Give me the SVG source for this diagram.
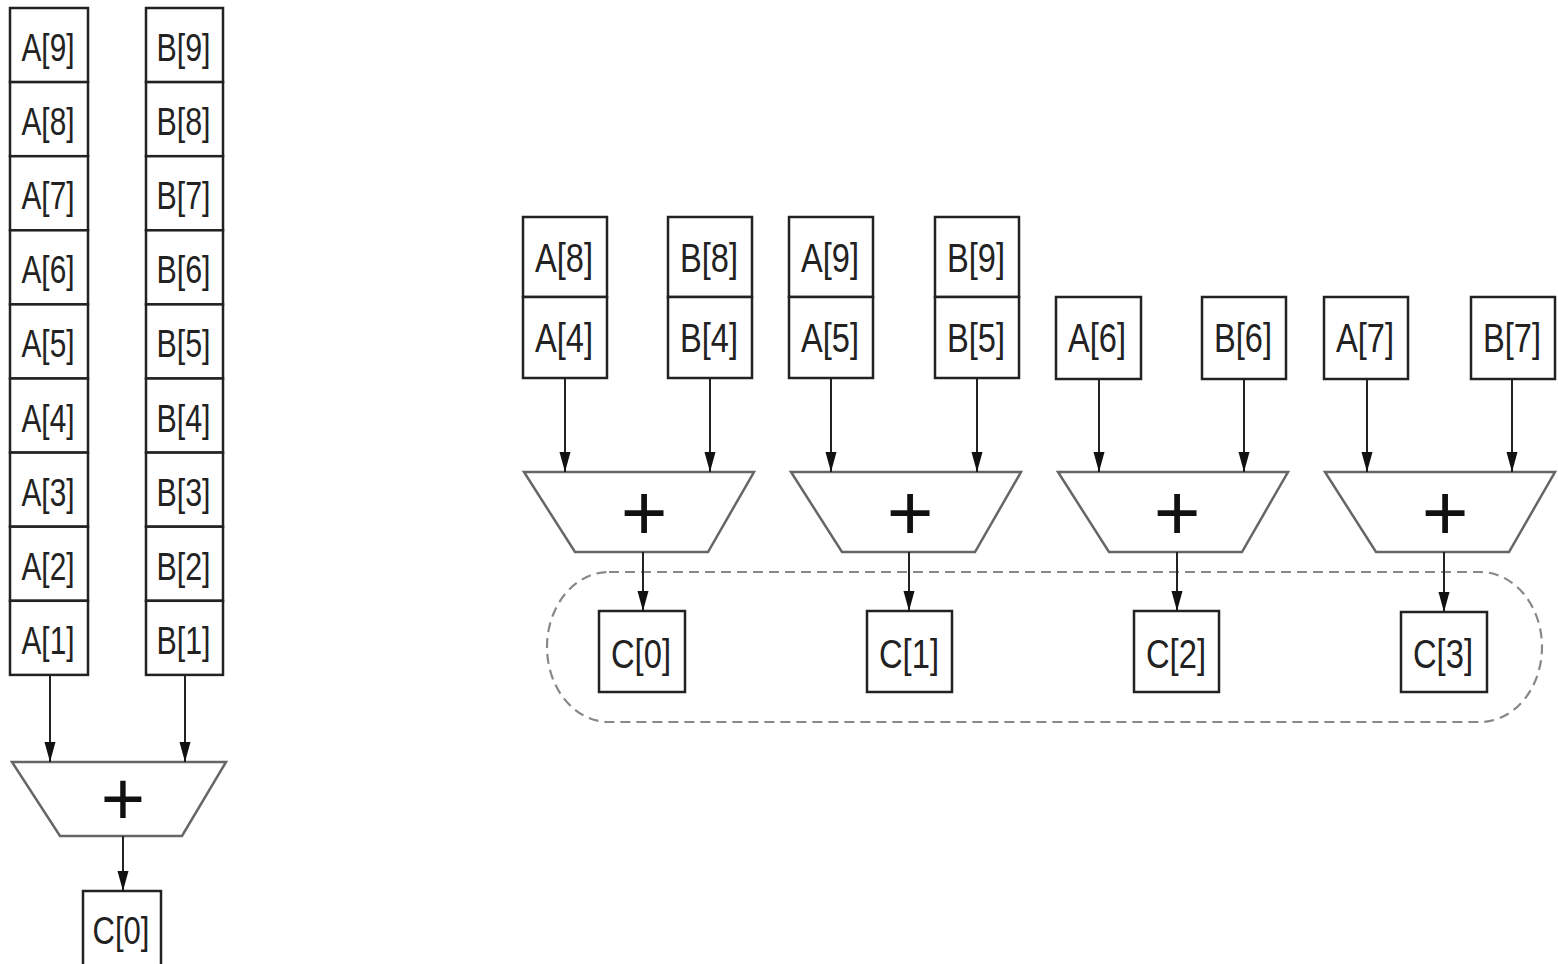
<svg xmlns="http://www.w3.org/2000/svg" width="1558" height="964" viewBox="0 0 1558 964">
<style>
.box{fill:#fff;stroke:#222;stroke-width:2.5}
.add{fill:#fff;stroke:#666;stroke-width:2.5;stroke-linejoin:miter}
.lbl{font-family:"Liberation Sans",Arial,sans-serif;fill:#222;text-anchor:middle}
.s{font-size:39px}
.r{font-size:41px}
.plus{font-family:"Liberation Sans",Arial,sans-serif;fill:#111;text-anchor:middle}
.wire{stroke:#222;stroke-width:2;fill:none;marker-end:url(#ah)}
.dash{fill:none;stroke:#888;stroke-width:2.2;stroke-dasharray:10 6}
</style>
<defs>
<marker id="ah" markerUnits="userSpaceOnUse" markerWidth="20" markerHeight="12" refX="20" refY="6" orient="auto">
<path d="M0,0.5 L20,6 L0,11.5 z" fill="#111"/>
</marker>
</defs>
<rect width="1558" height="964" fill="#fff"/>

<!-- Left: sequential -->
<g id="colA">
<rect class="box" x="10" y="8" width="78" height="74.1"/>
<rect class="box" x="10" y="82.1" width="78" height="74.1"/>
<rect class="box" x="10" y="156.2" width="78" height="74.1"/>
<rect class="box" x="10" y="230.3" width="78" height="74.1"/>
<rect class="box" x="10" y="304.4" width="78" height="74.1"/>
<rect class="box" x="10" y="378.5" width="78" height="74.1"/>
<rect class="box" x="10" y="452.6" width="78" height="74.1"/>
<rect class="box" x="10" y="526.7" width="78" height="74.1"/>
<rect class="box" x="10" y="600.8" width="78" height="74.1"/>
<text class="lbl s" x="48" y="61" textLength="53" lengthAdjust="spacingAndGlyphs">A[9]</text>
<text class="lbl s" x="48" y="135.1" textLength="53" lengthAdjust="spacingAndGlyphs">A[8]</text>
<text class="lbl s" x="48" y="209.2" textLength="53" lengthAdjust="spacingAndGlyphs">A[7]</text>
<text class="lbl s" x="48" y="283.3" textLength="53" lengthAdjust="spacingAndGlyphs">A[6]</text>
<text class="lbl s" x="48" y="357.4" textLength="53" lengthAdjust="spacingAndGlyphs">A[5]</text>
<text class="lbl s" x="48" y="431.5" textLength="53" lengthAdjust="spacingAndGlyphs">A[4]</text>
<text class="lbl s" x="48" y="505.6" textLength="53" lengthAdjust="spacingAndGlyphs">A[3]</text>
<text class="lbl s" x="48" y="579.7" textLength="53" lengthAdjust="spacingAndGlyphs">A[2]</text>
<text class="lbl s" x="48" y="653.8" textLength="53" lengthAdjust="spacingAndGlyphs">A[1]</text>
</g>
<g id="colB">
<rect class="box" x="146" y="8" width="77" height="74.1"/>
<rect class="box" x="146" y="82.1" width="77" height="74.1"/>
<rect class="box" x="146" y="156.2" width="77" height="74.1"/>
<rect class="box" x="146" y="230.3" width="77" height="74.1"/>
<rect class="box" x="146" y="304.4" width="77" height="74.1"/>
<rect class="box" x="146" y="378.5" width="77" height="74.1"/>
<rect class="box" x="146" y="452.6" width="77" height="74.1"/>
<rect class="box" x="146" y="526.7" width="77" height="74.1"/>
<rect class="box" x="146" y="600.8" width="77" height="74.1"/>
<text class="lbl s" x="183.5" y="61" textLength="54" lengthAdjust="spacingAndGlyphs">B[9]</text>
<text class="lbl s" x="183.5" y="135.1" textLength="54" lengthAdjust="spacingAndGlyphs">B[8]</text>
<text class="lbl s" x="183.5" y="209.2" textLength="54" lengthAdjust="spacingAndGlyphs">B[7]</text>
<text class="lbl s" x="183.5" y="283.3" textLength="54" lengthAdjust="spacingAndGlyphs">B[6]</text>
<text class="lbl s" x="183.5" y="357.4" textLength="54" lengthAdjust="spacingAndGlyphs">B[5]</text>
<text class="lbl s" x="183.5" y="431.5" textLength="54" lengthAdjust="spacingAndGlyphs">B[4]</text>
<text class="lbl s" x="183.5" y="505.6" textLength="54" lengthAdjust="spacingAndGlyphs">B[3]</text>
<text class="lbl s" x="183.5" y="579.7" textLength="54" lengthAdjust="spacingAndGlyphs">B[2]</text>
<text class="lbl s" x="183.5" y="653.8" textLength="54" lengthAdjust="spacingAndGlyphs">B[1]</text>
</g>
<g id="addL">
<polygon class="add" points="12,762 226,762 182,836 60,836"/>
<text class="plus" x="123" y="825" font-size="76">+</text>
</g>
<g id="outL">
<rect class="box" x="83" y="891" width="78" height="80"/>
<text class="lbl s" x="121" y="944" textLength="57" lengthAdjust="spacingAndGlyphs">C[0]</text>
</g>

<!-- Right: parallel -->
<g id="g0A">
<rect class="box" x="523" y="217" width="84" height="80"/>
<rect class="box" x="523" y="297" width="84" height="81"/>
<text class="lbl r" x="564" y="272" textLength="58" lengthAdjust="spacingAndGlyphs">A[8]</text>
<text class="lbl r" x="564" y="352" textLength="58" lengthAdjust="spacingAndGlyphs">A[4]</text>
</g>
<g id="g0B">
<rect class="box" x="668" y="217" width="84" height="80"/>
<rect class="box" x="668" y="297" width="84" height="81"/>
<text class="lbl r" x="709" y="272" textLength="58" lengthAdjust="spacingAndGlyphs">B[8]</text>
<text class="lbl r" x="709" y="352" textLength="58" lengthAdjust="spacingAndGlyphs">B[4]</text>
</g>
<g id="g1A">
<rect class="box" x="789" y="217" width="84" height="80"/>
<rect class="box" x="789" y="297" width="84" height="81"/>
<text class="lbl r" x="830" y="272" textLength="58" lengthAdjust="spacingAndGlyphs">A[9]</text>
<text class="lbl r" x="830" y="352" textLength="58" lengthAdjust="spacingAndGlyphs">A[5]</text>
</g>
<g id="g1B">
<rect class="box" x="935" y="217" width="84" height="80"/>
<rect class="box" x="935" y="297" width="84" height="81"/>
<text class="lbl r" x="976" y="272" textLength="58" lengthAdjust="spacingAndGlyphs">B[9]</text>
<text class="lbl r" x="976" y="352" textLength="58" lengthAdjust="spacingAndGlyphs">B[5]</text>
</g>
<g id="g2A">
<rect class="box" x="1056" y="297" width="85" height="82"/>
<text class="lbl r" x="1097" y="352" textLength="58" lengthAdjust="spacingAndGlyphs">A[6]</text>
</g>
<g id="g2B">
<rect class="box" x="1202" y="297" width="84" height="82"/>
<text class="lbl r" x="1243" y="352" textLength="58" lengthAdjust="spacingAndGlyphs">B[6]</text>
</g>
<g id="g3A">
<rect class="box" x="1324" y="297" width="84" height="82"/>
<text class="lbl r" x="1365" y="352" textLength="58" lengthAdjust="spacingAndGlyphs">A[7]</text>
</g>
<g id="g3B">
<rect class="box" x="1471" y="297" width="84" height="82"/>
<text class="lbl r" x="1512" y="352" textLength="58" lengthAdjust="spacingAndGlyphs">B[7]</text>
</g>

<g id="add0">
<polygon class="add" points="524,472 754,472 708,552 575,552"/>
<text class="plus" x="644" y="540" font-size="80">+</text>
</g>
<g id="add1">
<polygon class="add" points="791,472 1021,472 975,552 842,552"/>
<text class="plus" x="910" y="540" font-size="80">+</text>
</g>
<g id="add2">
<polygon class="add" points="1058,472 1288,472 1242,552 1109,552"/>
<text class="plus" x="1177" y="540" font-size="80">+</text>
</g>
<g id="add3">
<polygon class="add" points="1325,472 1555,472 1509,552 1376,552"/>
<text class="plus" x="1445" y="540" font-size="80">+</text>
</g>

<g id="group">
<rect class="dash" x="547" y="572" width="995" height="150" rx="62" ry="75"/>
</g>

<g id="c0">
<rect class="box" x="599" y="611" width="86" height="81"/>
<text class="lbl r" x="641" y="668" textLength="60" lengthAdjust="spacingAndGlyphs">C[0]</text>
</g>
<g id="c1">
<rect class="box" x="867" y="611" width="85" height="81"/>
<text class="lbl r" x="909" y="668" textLength="60" lengthAdjust="spacingAndGlyphs">C[1]</text>
</g>
<g id="c2">
<rect class="box" x="1134" y="611" width="85" height="81"/>
<text class="lbl r" x="1176" y="668" textLength="60" lengthAdjust="spacingAndGlyphs">C[2]</text>
</g>
<g id="c3">
<rect class="box" x="1401" y="612" width="86" height="80"/>
<text class="lbl r" x="1443" y="668" textLength="60" lengthAdjust="spacingAndGlyphs">C[3]</text>
</g>

<g id="connectors">
<line class="wire" x1="50" y1="675" x2="50" y2="762"/>
<line class="wire" x1="185" y1="675" x2="185" y2="762"/>
<line class="wire" x1="123" y1="836" x2="123" y2="891"/>

<line class="wire" x1="565" y1="378" x2="565" y2="472"/>
<line class="wire" x1="710" y1="378" x2="710" y2="472"/>
<line class="wire" x1="831" y1="378" x2="831" y2="472"/>
<line class="wire" x1="977" y1="378" x2="977" y2="472"/>
<line class="wire" x1="1099" y1="379" x2="1099" y2="472"/>
<line class="wire" x1="1244" y1="379" x2="1244" y2="472"/>
<line class="wire" x1="1367" y1="379" x2="1367" y2="472"/>
<line class="wire" x1="1512" y1="379" x2="1512" y2="472"/>

<line class="wire" x1="643" y1="552" x2="643" y2="611"/>
<line class="wire" x1="909" y1="552" x2="909" y2="611"/>
<line class="wire" x1="1177" y1="552" x2="1177" y2="611"/>
<line class="wire" x1="1444" y1="552" x2="1444" y2="612"/>
</g>
</svg>
